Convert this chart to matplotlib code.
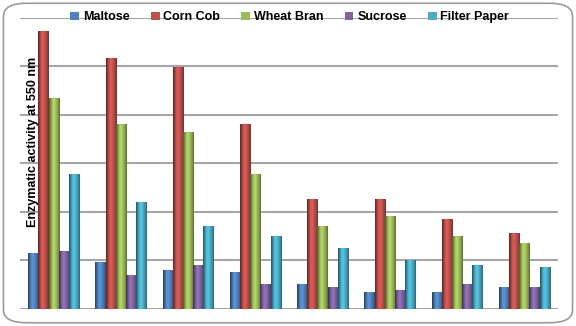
import numpy as np
import matplotlib
matplotlib.use('Agg')
import matplotlib.pyplot as plt
from matplotlib.patches import FancyBboxPatch
from matplotlib.colors import to_rgb

plt.rcParams['font.family'] = ['Liberation Sans', 'DejaVu Sans']

# values (no axis numbers shown in the original)
groups = ['1', '2', '3', '4', '5', '6', '7', '8']
maltose = [0.115, 0.097, 0.080, 0.076, 0.051, 0.035, 0.035, 0.045]
corn_cob = [0.573, 0.517, 0.499, 0.380, 0.226, 0.226, 0.185, 0.156]
wheat_bran = [0.435, 0.380, 0.365, 0.279, 0.170, 0.191, 0.150, 0.136]
sucrose = [0.119, 0.070, 0.090, 0.051, 0.045, 0.039, 0.051, 0.045]
filter_paper = [0.279, 0.220, 0.170, 0.150, 0.125, 0.100, 0.090, 0.086]

series = [('Maltose', maltose, '#4F81BD'),
          ('Corn Cob', corn_cob, '#C0504D'),
          ('Wheat Bran', wheat_bran, '#9BBB59'),
          ('Sucrose', sucrose, '#8064A2'),
          ('Filter Paper', filter_paper, '#4BACC6')]

fig = plt.figure(figsize=(5.76, 3.26), dpi=100)
ax = fig.add_axes([0.0347, 0.052, 0.934, 0.894])

# cylinder-like shading across each bar
prof = np.array([0.55, 0.75, 0.95, 1.1, 1.15, 1.1, 1.0, 0.9, 0.8, 0.65])

x = np.arange(len(groups))
w = 0.152
for k, (name, vals, col) in enumerate(series):
    bars = ax.bar(x + (k - 2) * w, vals, w, color=col, edgecolor='none',
                  label=name, zorder=3)
    c = np.array(to_rgb(col))
    img = np.clip(prof[:, None] * c[None, :], 0, 1)[None, :, :]
    for b in bars:
        im = ax.imshow(img, extent=[b.get_x(), b.get_x() + b.get_width(),
                                    0, b.get_height()],
                       aspect='auto', interpolation='bilinear', zorder=3.5)
        im.set_clip_path(b)

ax.set_xlim(-0.5, len(groups) - 0.5)
ax.set_ylim(0, 0.6)
ax.set_yticks(np.arange(0, 0.61, 0.1))
ax.yaxis.grid(True, color='#A6A6A6', linewidth=1.5, zorder=0)
ax.set_xticks([])
ax.tick_params(axis='y', length=0, labelleft=False)
for s in ax.spines.values():
    s.set_visible(False)

fig.text(0.057, 0.566, 'Enzymatic activity at 550 nm', rotation=90,
         ha='center', va='center', fontsize=9, fontweight='bold', zorder=5)

leg = fig.legend(loc='center', bbox_to_anchor=(0.503, 0.947), ncol=5,
                 frameon=False, fontsize=9, handlelength=0.7,
                 handleheight=0.7, handletextpad=0.3, columnspacing=1.7)
for t in leg.get_texts():
    t.set_fontweight('bold')

border = FancyBboxPatch((0.006, 0.01), 0.988, 0.98,
                        boxstyle='round,pad=0,rounding_size=0.04',
                        transform=fig.transFigure, fill=False,
                        edgecolor='#9A9A9A', linewidth=1.2)
fig.patches.append(border)

fig.savefig('out.png', dpi=100)
